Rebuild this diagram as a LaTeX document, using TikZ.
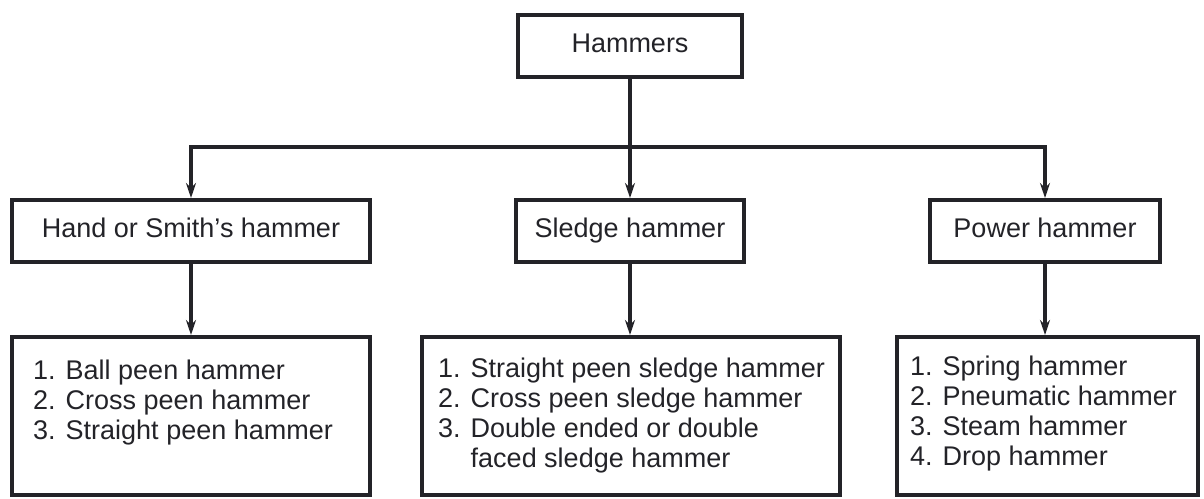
\documentclass[tikz,border=0pt]{standalone}
\usepackage{fontspec}
\setmainfont{Liberation Sans}
\usetikzlibrary{arrows.meta}

\definecolor{ink}{RGB}{35,35,40}
\tikzset{
  box/.style={draw=ink, line width=4pt, text=ink, font=\fontsize{27}{30}\selectfont, inner sep=0pt, text height=19pt, text depth=5pt},
  listtext/.style={text=ink, font=\fontsize{27}{30}\selectfont, align=left, inner sep=0pt, anchor=north west},
  link/.style={draw=ink, line width=3.2pt, -{Stealth[length=15pt, width=10pt]}}
}

\begin{document}
\begin{tikzpicture}[x=1pt, y=1pt]
        \useasboundingbox (0,0) rectangle (1204,498);

        % top box
        \node[box, minimum width=224, minimum height=62] (hammers) at (630,452) {Hammers};

        % second level: the three kinds
        \node[box, minimum width=358, minimum height=62] (hand) at (191,267) {Hand or Smith's hammer};
        \node[box, minimum width=228, minimum height=62] (sledge) at (630,267) {Sledge hammer};
        \node[box, minimum width=230, minimum height=62] (power) at (1045,267) {Power hammer};

        % third level: list boxes
        \node[box, minimum width=358, minimum height=158] (handlist) at (191,82) {};
        \node[box, minimum width=418, minimum height=158] (sledgelist) at (631,82) {};
        \node[box, minimum width=301, minimum height=158] (powerlist) at (1047.5,82) {};

        % list texts
        \node[listtext] (handitems) at ([shift={(23,-25)}]handlist.north west)
            {1. Ball peen hammer\\2. Cross peen hammer\\3. Straight peen hammer};
        \node[listtext] (sledgeitems) at ([shift={(18,-23)}]sledgelist.north west)
            {1. Straight peen sledge hammer\\2. Cross peen sledge hammer\\3. Double ended or double\\\phantom{3. }faced sledge hammer};
        \node[listtext] (poweritems) at ([shift={(15,-21)}]powerlist.north west)
            {1. Spring hammer\\2. Pneumatic hammer\\3. Steam hammer\\4. Drop hammer};

        % connectors
        \coordinate (split) at (hammers.south |- 0,351);
        \draw[link] (hammers.south) -- (sledge.north);
        \draw[link] (split) -| (hand.north);
        \draw[link] (split) -| (power.north);
        \draw[link] (hand.south) -- (handlist.north);
        \draw[link] (sledge.south) -- (sledge.south |- sledgelist.north);
        \draw[link] (power.south) -- (power.south |- powerlist.north);
\end{tikzpicture}
\end{document}
